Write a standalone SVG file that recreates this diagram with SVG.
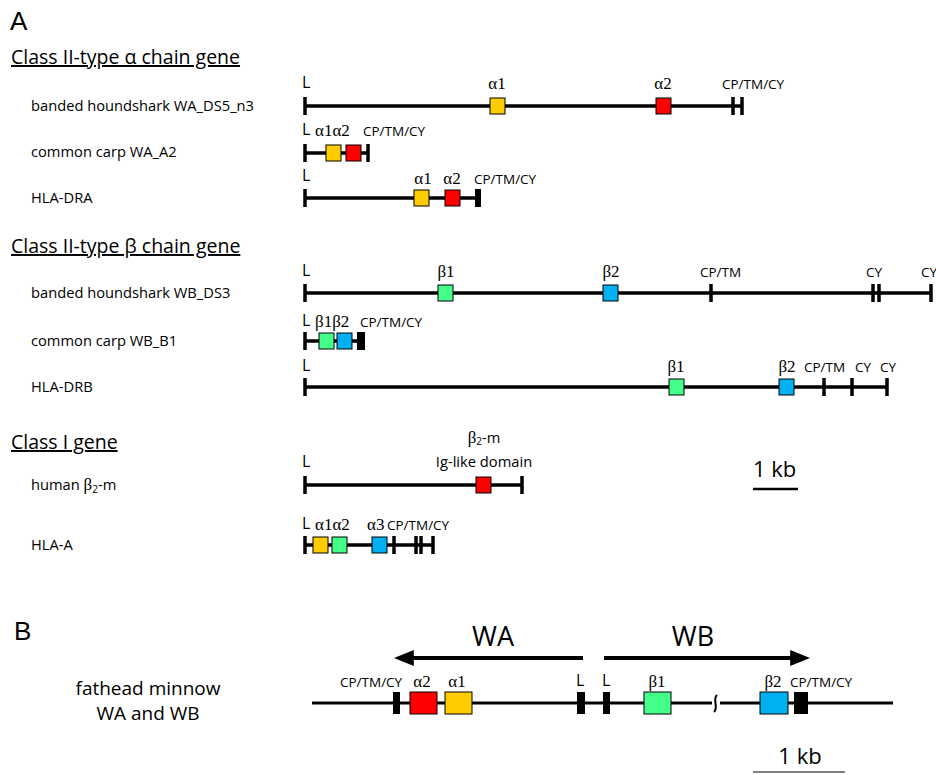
<svg xmlns="http://www.w3.org/2000/svg" width="936" height="775" viewBox="0 0 936 775">
<style>
.hd{font-family:"Liberation Sans",Arial,sans-serif;font-size:26px;fill:#000}
.sec{font-family:"Open Sans","Noto Sans",sans-serif;font-size:19.5px;fill:#000;text-decoration:underline}
.lbl{font-family:"Open Sans","Noto Sans",sans-serif;font-size:14.7px;fill:#000}
.sm{font-family:"Open Sans","Noto Sans",sans-serif;font-size:13.5px;fill:#000}
.L{font-family:"Open Sans","Noto Sans",sans-serif;font-size:16px;fill:#000}
.gr{font-family:"Liberation Serif","Times New Roman",serif;font-size:17px;fill:#000}
.kb{font-family:"Open Sans","Noto Sans",sans-serif;font-size:22px;fill:#000}
.big{font-family:"Open Sans","Noto Sans",sans-serif;font-size:27px;fill:#000}
.fh{font-family:"Open Sans","Noto Sans",sans-serif;font-size:19px;fill:#000}
.ln{stroke:#000;stroke-width:3.5;fill:none}
.tk{stroke:#000;stroke-width:3.5}
.bx{stroke:#000;stroke-width:1}
.y{fill:#FFCC00}.r{fill:#FF0000}.g{fill:#44FF88}.b{fill:#00B0F0}.k{fill:#000}
</style>
<defs>
<marker id="ah" markerWidth="5" markerHeight="4" refX="0.2" refY="2" orient="auto" markerUnits="strokeWidth">
<path d="M0,0 L5,2 L0,4 Z" fill="#000"/>
</marker>
</defs>

<text class="hd" x="10" y="30">A</text>
<text class="hd" x="14" y="640">B</text>

<text class="sec" x="11" y="64">Class II-type α chain gene</text>
<text class="sec" x="11" y="253">Class II-type β chain gene</text>
<text class="sec" x="11" y="449">Class I gene</text>

<g id="row-WA_DS5_n3">
<text class="lbl" x="31" y="111">banded houndshark WA_DS5_n3</text>
<line class="ln" x1="304" y1="106" x2="743" y2="106"/>
<line class="tk" x1="305" y1="97" x2="305" y2="115"/>
<line class="tk" x1="733" y1="97" x2="733" y2="115"/>
<line class="tk" x1="742" y1="97" x2="742" y2="115"/>
<rect class="bx y" x="490" y="98" width="15" height="16"/>
<rect class="bx r" x="656" y="98" width="15" height="16"/>
<text class="L" x="302" y="88">L</text>
<text class="gr" x="497" y="89" text-anchor="middle">α1</text>
<text class="gr" x="663" y="89" text-anchor="middle">α2</text>
<text class="sm" x="722" y="89">CP/TM/CY</text>
</g>

<g id="row-WA_A2">
<text class="lbl" x="31" y="157">common carp WA_A2</text>
<line class="ln" x1="304" y1="153" x2="369" y2="153"/>
<line class="tk" x1="305" y1="144" x2="305" y2="162"/>
<line class="tk" x1="368" y1="144" x2="368" y2="162"/>
<rect class="bx y" x="326" y="145" width="15" height="16"/>
<rect class="bx r" x="346" y="145" width="15" height="16"/>
<text class="L" x="302" y="135">L</text>
<text class="gr" x="315" y="136">α1α2</text>
<text class="sm" x="363" y="136">CP/TM/CY</text>
</g>

<g id="row-HLA-DRA">
<text class="lbl" x="31" y="203">HLA-DRA</text>
<line class="ln" x1="304" y1="198" x2="479" y2="198"/>
<line class="tk" x1="305" y1="189" x2="305" y2="207"/>
<rect class="k" x="475" y="189" width="6" height="18"/>
<rect class="bx y" x="414" y="190" width="15" height="16"/>
<rect class="bx r" x="445" y="190" width="15" height="16"/>
<text class="L" x="302" y="181">L</text>
<text class="gr" x="423" y="184" text-anchor="middle">α1</text>
<text class="gr" x="452" y="184" text-anchor="middle">α2</text>
<text class="sm" x="474" y="184">CP/TM/CY</text>
</g>

<g id="row-WB_DS3">
<text class="lbl" x="31" y="298">banded houndshark WB_DS3</text>
<line class="ln" x1="304" y1="293" x2="931" y2="293"/>
<line class="tk" x1="305" y1="284" x2="305" y2="302"/>
<line class="tk" x1="711" y1="284" x2="711" y2="302"/>
<line class="tk" x1="873" y1="284" x2="873" y2="302"/>
<line class="tk" x1="879" y1="284" x2="879" y2="302"/>
<line class="tk" x1="931" y1="284" x2="931" y2="302"/>
<rect class="bx g" x="438" y="285" width="15" height="16"/>
<rect class="bx b" x="603" y="285" width="15" height="16"/>
<text class="L" x="302" y="276">L</text>
<text class="gr" x="446" y="277" text-anchor="middle">β1</text>
<text class="gr" x="611" y="277" text-anchor="middle">β2</text>
<text class="sm" x="700" y="277">CP/TM</text>
<text class="sm" x="866" y="277">CY</text>
<text class="sm" x="921" y="277">CY</text>
</g>

<g id="row-WB_B1">
<text class="lbl" x="31" y="346">common carp WB_B1</text>
<line class="ln" x1="304" y1="341" x2="360" y2="341"/>
<line class="tk" x1="305" y1="332" x2="305" y2="350"/>
<rect class="k" x="357" y="332" width="8" height="18"/>
<rect class="bx g" x="319" y="333" width="15" height="16"/>
<rect class="bx b" x="337" y="333" width="15" height="16"/>
<text class="L" x="302" y="326">L</text>
<text class="gr" x="315" y="327">β1β2</text>
<text class="sm" x="360" y="327">CP/TM/CY</text>
</g>

<g id="row-HLA-DRB">
<text class="lbl" x="31" y="392">HLA-DRB</text>
<line class="ln" x1="304" y1="387" x2="887" y2="387"/>
<line class="tk" x1="305" y1="378" x2="305" y2="396"/>
<line class="tk" x1="824" y1="378" x2="824" y2="396"/>
<line class="tk" x1="852" y1="378" x2="852" y2="396"/>
<line class="tk" x1="887" y1="378" x2="887" y2="396"/>
<rect class="bx g" x="669" y="379" width="15" height="16"/>
<rect class="bx b" x="779" y="379" width="15" height="16"/>
<text class="L" x="302" y="371">L</text>
<text class="gr" x="676" y="372" text-anchor="middle">β1</text>
<text class="gr" x="787" y="372" text-anchor="middle">β2</text>
<text class="sm" x="804" y="372">CP/TM</text>
<text class="sm" x="855" y="372">CY</text>
<text class="sm" x="880" y="372">CY</text>
</g>

<g id="row-b2m">
<text class="lbl" x="31" y="490">human <tspan font-family="Liberation Serif,serif" font-size="17">β</tspan><tspan font-size="10" dy="3">2</tspan><tspan dy="-3">-m</tspan></text>
<line class="ln" x1="304" y1="485" x2="522" y2="485"/>
<line class="tk" x1="305" y1="476" x2="305" y2="494"/>
<line class="tk" x1="522" y1="476" x2="522" y2="494"/>
<rect class="bx r" x="476" y="477" width="15" height="16"/>
<text class="L" x="302" y="467">L</text>
<text class="lbl" x="484" y="443" text-anchor="middle"><tspan font-family="Liberation Serif,serif" font-size="17">β</tspan><tspan font-size="10" dy="2">2</tspan><tspan dy="-2">-m</tspan></text>
<text class="lbl" x="484" y="467" text-anchor="middle">Ig-like domain</text>
</g>

<g id="row-HLA-A">
<text class="lbl" x="31" y="550">HLA-A</text>
<line class="ln" x1="304" y1="545" x2="433" y2="545"/>
<line class="tk" x1="305" y1="536" x2="305" y2="554"/>
<line class="tk" x1="394" y1="536" x2="394" y2="554"/>
<line class="tk" x1="416" y1="536" x2="416" y2="554"/>
<line class="tk" x1="421" y1="536" x2="421" y2="554"/>
<line class="tk" x1="433" y1="536" x2="433" y2="554"/>
<rect class="bx y" x="313" y="537" width="15" height="16"/>
<rect class="bx g" x="332" y="537" width="15" height="16"/>
<rect class="bx b" x="372" y="537" width="15" height="16"/>
<text class="L" x="302" y="529">L</text>
<text class="gr" x="315" y="530">α1α2</text>
<text class="gr" x="367" y="530">α3</text>
<text class="sm" x="387" y="530">CP/TM/CY</text>
</g>

<g id="scale-A">
<text class="kb" x="753" y="477">1 kb</text>
<line x1="753" y1="489" x2="798" y2="489" stroke="#000" stroke-width="2.5"/>
</g>

<g id="row-fathead">
<text class="fh" x="148" y="695" text-anchor="middle">fathead minnow</text>
<text class="fh" x="148" y="720" text-anchor="middle">WA and WB</text>
<line x1="312" y1="703" x2="893" y2="703" stroke="#000" stroke-width="3"/>
<rect class="k" x="393" y="692" width="7" height="22"/>
<rect class="bx r" x="410" y="692" width="27" height="22"/>
<rect class="bx y" x="445" y="692" width="27" height="22"/>
<rect class="k" x="577" y="692" width="8" height="22"/>
<rect class="k" x="603" y="692" width="7" height="22"/>
<rect class="bx g" x="644" y="692" width="27" height="22"/>
<rect x="712" y="696" width="8" height="14" fill="#fff"/>
<path d="M717,695 C712,699 719,707 714,712" stroke="#000" stroke-width="2" fill="none"/>
<rect class="bx b" x="760" y="692" width="28" height="22"/>
<rect class="k" x="794" y="692" width="14" height="22"/>
<text class="sm" x="340" y="687">CP/TM/CY</text>
<text class="gr" x="422" y="687" text-anchor="middle">α2</text>
<text class="gr" x="457" y="687" text-anchor="middle">α1</text>
<text class="L" x="576" y="686">L</text>
<text class="L" x="602" y="686">L</text>
<text class="gr" x="657" y="687" text-anchor="middle">β1</text>
<text class="gr" x="773" y="687" text-anchor="middle">β2</text>
<text class="sm" x="790" y="687">CP/TM/CY</text>
</g>

<g id="connectors">
<line x1="583" y1="658" x2="413" y2="658" stroke="#000" stroke-width="4" marker-end="url(#ah)"/>
<line x1="604" y1="658" x2="791" y2="658" stroke="#000" stroke-width="4" marker-end="url(#ah)"/>
</g>
<text class="big" x="493" y="646" text-anchor="middle">WA</text>
<text class="big" x="693" y="646" text-anchor="middle">WB</text>

<g id="scale-B">
<text class="kb" x="800" y="764" text-anchor="middle">1 kb</text>
<line x1="753" y1="772" x2="845" y2="772" stroke="#000" stroke-width="1"/>
</g>
</svg>
